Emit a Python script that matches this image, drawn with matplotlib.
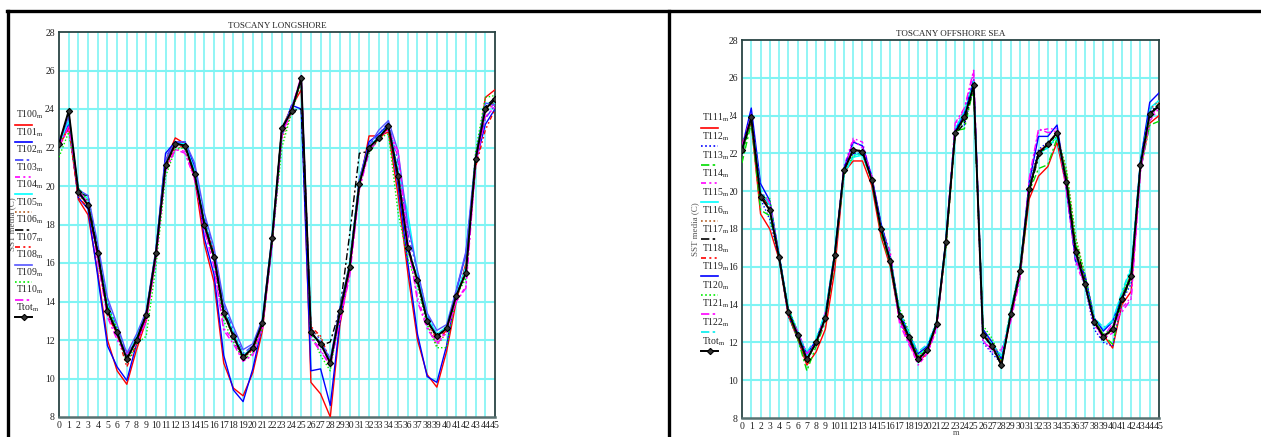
import matplotlib.pyplot as plt
from matplotlib.lines import Line2D

plt.rcParams['font.family'] = ['Liberation Serif', 'DejaVu Serif']
plt.rcParams['mathtext.fontset'] = 'custom'
plt.rcParams['mathtext.rm'] = 'Liberation Serif'

W, H = 1261, 437

months = list(range(46))

# --- TOSCANY LONGSHORE ---
ttot_left = [22.2, 23.9, 19.7, 19.0, 16.5, 13.5, 12.4, 11.0, 12.0, 13.3, 16.5, 21.1, 22.2, 22.1, 20.6, 18.0,
             16.3, 13.4, 12.2, 11.1, 11.6, 12.9, 17.3, 23.0, 23.9, 25.6, 12.4, 11.8, 10.8, 13.5, 15.8, 20.1,
             22.0, 22.5, 23.1, 20.5, 16.8, 15.1, 13.0, 12.2, 12.6, 14.3, 15.5, 21.4, 24.0, 24.5]
t100 = [22.0, 23.2, 19.3, 18.5, 15.5, 12.0, 10.4, 9.7, 11.5, 13.0, 16.3, 21.3, 22.5, 22.2, 20.4, 17.0,
        15.0, 10.8, 9.5, 9.1, 10.3, 12.5, 17.2, 23.0, 24.1, 25.0, 9.8, 9.2, 8.0, 12.8, 15.6, 20.0,
        22.6, 22.6, 22.8, 19.5, 15.5, 12.0, 10.2, 9.55, 11.4, 14.0, 16.0, 21.0, 24.6, 25.0]
t101 = [22.3, 23.2, 19.4, 18.8, 15.3, 11.7, 10.6, 9.9, 11.8, 13.2, 16.6, 21.7, 22.3, 22.3, 21.0, 17.3,
        15.4, 11.2, 9.4, 8.8, 10.5, 12.8, 17.0, 22.7, 24.2, 24.0, 10.4, 10.5, 8.6, 13.0, 15.8, 20.3,
        22.3, 22.7, 23.2, 20.0, 16.0, 12.3, 10.1, 9.8, 11.7, 14.5, 16.5, 21.2, 23.2, 24.0]
t102 = [22.3, 23.5, 19.5, 19.3, 16.8, 14.0, 12.6, 11.2, 12.1, 13.4, 16.6, 21.5, 22.3, 22.2, 20.9, 18.4,
        16.6, 13.8, 12.5, 11.3, 11.7, 13.0, 17.3, 22.6, 24.0, 25.4, 12.6, 12.0, 11.0, 13.4, 15.9, 20.2,
        22.1, 22.7, 23.3, 21.2, 17.5, 15.6, 13.3, 12.3, 12.6, 14.6, 16.4, 21.3, 23.5, 24.2]
t103 = [22.0, 23.0, 19.6, 19.2, 16.3, 13.4, 12.2, 11.4, 11.9, 13.0, 16.2, 20.8, 21.9, 21.8, 20.3, 17.8,
        16.0, 12.6, 12.0, 10.9, 11.3, 12.7, 17.1, 22.8, 23.8, 25.8, 12.2, 11.5, 10.6, 13.2, 15.5, 19.9,
        21.8, 22.4, 23.0, 21.5, 17.0, 14.2, 12.7, 11.9, 12.5, 14.0, 14.8, 21.2, 23.8, 24.3]
t104 = [22.1, 23.4, 19.9, 19.3, 16.7, 13.8, 12.5, 11.0, 12.2, 13.4, 16.6, 21.2, 22.2, 22.2, 20.8, 18.2,
        16.5, 13.6, 12.4, 11.2, 11.6, 13.1, 17.4, 23.0, 24.0, 25.6, 12.3, 11.9, 10.9, 13.6, 15.9, 20.3,
        22.0, 22.6, 23.1, 20.8, 18.6, 15.4, 13.2, 12.3, 12.7, 14.4, 15.8, 21.5, 24.3, 24.3]
t105 = [22.0, 23.1, 19.5, 19.1, 16.4, 13.6, 12.5, 10.9, 12.0, 13.3, 16.4, 20.9, 22.0, 22.0, 20.5, 18.1,
        16.4, 13.5, 12.2, 11.0, 11.5, 12.8, 17.2, 22.4, 23.8, 25.5, 12.6, 12.1, 10.6, 13.4, 15.7, 20.0,
        21.9, 22.4, 23.0, 20.3, 16.9, 15.0, 12.9, 11.7, 12.4, 14.2, 15.4, 21.3, 23.9, 24.4]
t106 = [22.2, 23.8, 19.6, 19.5, 16.6, 13.6, 12.3, 11.1, 12.0, 13.4, 16.5, 21.0, 22.2, 22.1, 20.6, 18.1,
        16.4, 13.5, 12.3, 11.1, 11.6, 12.9, 17.3, 23.0, 23.9, 24.0, 12.5, 11.7, 11.9, 13.6, 17.5, 21.7,
        21.8, 22.5, 23.1, 20.6, 16.9, 15.1, 13.0, 12.1, 12.6, 14.3, 15.5, 21.4, 24.1, 24.6]
t107 = [22.1, 23.0, 19.4, 18.9, 16.2, 13.3, 12.3, 10.6, 11.8, 13.2, 16.4, 21.0, 22.1, 22.0, 20.4, 17.9,
        16.6, 13.3, 12.2, 11.1, 11.5, 12.8, 17.2, 22.9, 23.9, 25.5, 12.7, 12.2, 10.9, 13.4, 15.9, 20.1,
        22.0, 22.4, 23.0, 20.4, 16.7, 15.0, 13.0, 12.0, 12.5, 14.3, 15.6, 21.0, 22.9, 24.0]
t108 = [22.3, 23.6, 19.8, 19.5, 17.0, 14.2, 12.8, 11.3, 12.3, 13.5, 16.7, 21.3, 22.3, 22.3, 21.2, 18.6,
        16.8, 14.0, 12.7, 11.5, 11.8, 13.1, 17.4, 22.9, 24.1, 25.5, 12.3, 11.9, 11.0, 13.7, 16.0, 20.4,
        22.1, 22.9, 23.4, 21.8, 18.0, 15.6, 13.4, 12.5, 12.8, 14.6, 16.6, 21.6, 24.3, 24.2]
t109 = [21.5, 22.8, 19.9, 19.2, 16.4, 13.8, 12.6, 10.8, 11.8, 12.2, 15.8, 20.5, 21.9, 22.0, 20.5, 18.0,
        16.2, 13.0, 11.9, 11.0, 11.3, 12.6, 17.1, 22.0, 23.8, 25.4, 12.4, 11.2, 10.4, 13.5, 16.0, 20.3,
        21.7, 22.5, 22.7, 18.6, 16.2, 14.8, 12.8, 11.6, 11.6, 14.3, 15.2, 21.8, 24.6, 24.7]
t110 = [22.1, 23.1, 19.8, 19.1, 16.1, 13.2, 12.0, 11.2, 11.8, 13.0, 16.2, 20.8, 21.9, 21.7, 20.4, 17.7,
        15.8, 12.5, 11.8, 10.9, 11.2, 12.6, 17.0, 22.6, 24.0, 25.7, 12.1, 11.4, 10.7, 13.0, 15.3, 19.8,
        21.8, 22.6, 22.9, 21.8, 17.2, 14.0, 12.6, 11.8, 12.4, 14.0, 14.7, 21.1, 23.6, 24.1]

# --- TOSCANY OFFSHORE SEA ---
ttot_right = [22.2, 23.9, 19.7, 19.0, 16.5, 13.6, 12.4, 11.1, 12.0, 13.3, 16.6, 21.1, 22.2, 22.1, 20.6, 18.0,
              16.3, 13.4, 12.3, 11.1, 11.6, 13.0, 17.3, 23.1, 23.9, 25.6, 12.4, 11.8, 10.8, 13.5, 15.8, 20.1,
              22.0, 22.5, 23.1, 20.5, 16.8, 15.1, 13.1, 12.3, 12.7, 14.3, 15.5, 21.4, 24.1, 24.5]
t111 = [22.5, 23.6, 18.8, 18.0, 16.4, 13.4, 12.2, 10.8, 11.5, 12.7, 15.8, 21.0, 21.6, 21.6, 20.3, 17.6,
        16.0, 13.2, 12.1, 11.0, 11.4, 12.9, 17.1, 23.1, 24.1, 25.5, 12.6, 11.8, 10.9, 13.3, 15.6, 19.6,
        20.8, 21.3, 22.6, 20.2, 16.6, 15.3, 13.2, 12.4, 11.7, 14.0, 14.7, 21.2, 23.6, 24.0]
t112 = [22.1, 23.8, 19.6, 18.5, 16.4, 13.4, 12.2, 11.0, 12.0, 13.3, 16.6, 21.2, 22.0, 22.0, 20.6, 18.0,
        16.1, 13.2, 12.1, 11.1, 11.5, 12.9, 17.2, 23.2, 23.5, 25.5, 12.0, 11.4, 10.9, 13.4, 15.6, 20.3,
        22.2, 22.6, 23.0, 20.2, 16.6, 15.0, 12.7, 12.0, 11.8, 14.2, 15.1, 21.5, 24.2, 24.6]
t113 = [21.5, 23.6, 19.0, 18.7, 16.5, 13.5, 12.2, 10.5, 11.8, 13.1, 16.3, 21.0, 21.8, 22.0, 20.6, 17.8,
        16.1, 13.4, 12.3, 11.3, 11.6, 13.0, 17.1, 23.2, 23.3, 25.5, 12.7, 12.0, 11.0, 13.4, 15.4, 20.0,
        21.2, 21.4, 22.8, 21.0, 17.2, 15.5, 13.2, 12.4, 11.9, 14.3, 15.3, 21.1, 23.5, 23.7]
t114 = [22.3, 24.1, 19.8, 19.3, 16.6, 13.6, 12.5, 11.2, 11.9, 13.2, 16.4, 21.3, 22.8, 22.6, 20.7, 18.2,
        16.8, 13.2, 12.0, 10.8, 11.4, 12.8, 17.3, 23.5, 24.3, 26.3, 12.1, 11.5, 11.4, 13.3, 15.5, 20.5,
        23.2, 23.3, 23.3, 20.0, 16.2, 15.0, 13.0, 12.2, 12.5, 13.8, 14.4, 21.0, 23.7, 24.4]
t115 = [22.0, 23.9, 19.9, 19.4, 16.7, 13.8, 12.6, 11.3, 12.1, 13.5, 16.7, 21.0, 21.8, 21.9, 20.6, 18.2,
        16.4, 13.5, 12.4, 11.3, 11.7, 13.1, 17.4, 23.3, 24.2, 25.7, 12.4, 11.8, 11.1, 13.6, 15.8, 20.2,
        22.0, 22.3, 22.9, 20.7, 16.7, 15.0, 13.2, 12.7, 13.2, 14.6, 15.9, 21.6, 24.4, 24.8]
t116 = [22.1, 23.7, 19.6, 19.1, 16.5, 13.7, 12.4, 11.0, 12.0, 13.3, 16.5, 21.1, 22.1, 22.2, 20.7, 18.3,
        16.6, 13.5, 12.3, 11.2, 11.6, 13.0, 17.2, 23.0, 23.9, 25.6, 12.6, 12.0, 10.8, 13.6, 15.9, 20.1,
        21.9, 22.6, 23.0, 21.2, 17.6, 15.6, 13.3, 12.3, 12.6, 14.5, 15.6, 21.4, 24.0, 24.7]
t117 = [22.0, 23.8, 19.8, 19.2, 16.6, 13.7, 12.3, 11.1, 12.0, 13.4, 16.6, 21.1, 22.2, 22.1, 20.7, 18.1,
        16.3, 13.5, 12.3, 11.1, 11.6, 13.0, 17.3, 23.0, 23.6, 25.5, 12.5, 11.7, 10.8, 13.5, 15.8, 20.0,
        21.8, 22.5, 23.0, 20.7, 17.1, 15.4, 13.1, 12.3, 12.8, 14.3, 15.5, 21.4, 24.1, 24.6]
t118 = [22.4, 23.8, 19.9, 19.0, 16.5, 13.5, 12.3, 11.1, 12.0, 13.2, 16.5, 21.1, 22.2, 22.1, 20.6, 18.0,
        16.2, 13.4, 12.4, 11.2, 11.6, 12.9, 17.2, 23.1, 24.0, 25.7, 12.4, 11.8, 10.9, 13.4, 15.8, 20.2,
        22.1, 22.5, 23.1, 20.6, 16.9, 15.2, 13.1, 12.2, 12.7, 14.3, 15.6, 21.4, 24.3, 24.8]
t119 = [22.3, 24.4, 20.4, 19.5, 16.6, 13.7, 12.5, 11.4, 12.1, 13.5, 16.7, 21.2, 22.6, 22.4, 20.8, 18.3,
        16.5, 13.6, 12.5, 11.4, 11.8, 13.0, 17.4, 23.2, 24.1, 25.9, 12.7, 12.0, 11.1, 13.5, 15.9, 20.5,
        22.9, 22.9, 23.5, 20.2, 16.3, 15.6, 13.3, 12.6, 13.1, 14.4, 15.5, 21.6, 24.7, 25.2]
t120 = [22.0, 23.7, 19.7, 19.6, 16.5, 13.8, 12.6, 11.0, 12.0, 13.4, 16.5, 20.8, 21.9, 22.0, 20.5, 18.1,
        16.3, 13.8, 12.6, 11.3, 11.7, 13.0, 17.0, 23.0, 23.8, 25.3, 12.9, 12.2, 11.0, 13.7, 15.9, 20.2,
        21.9, 22.4, 22.9, 21.1, 17.5, 15.6, 13.3, 12.4, 12.8, 14.5, 15.7, 21.2, 23.8, 24.7]
t121 = [22.4, 24.0, 20.0, 19.4, 16.6, 13.5, 12.6, 11.4, 12.0, 13.6, 16.4, 21.0, 22.7, 22.3, 20.8, 18.0,
        16.6, 13.0, 11.9, 11.0, 11.4, 12.7, 17.3, 23.6, 24.4, 26.4, 12.1, 11.6, 11.6, 13.1, 15.4, 20.7,
        23.3, 23.1, 23.2, 20.1, 16.4, 15.1, 12.9, 12.3, 13.0, 13.6, 14.3, 21.1, 23.9, 24.5]
t122 = [22.2, 23.9, 20.1, 19.2, 16.5, 13.7, 12.4, 11.5, 12.2, 13.6, 16.8, 20.8, 21.9, 22.0, 20.6, 18.1,
        16.5, 13.6, 12.5, 11.5, 11.9, 13.1, 17.3, 23.3, 24.2, 25.8, 12.5, 11.9, 11.3, 13.7, 16.0, 20.2,
        22.0, 22.3, 22.8, 20.5, 16.6, 15.2, 13.3, 12.8, 13.1, 14.7, 16.0, 21.6, 24.3, 24.8]

# line styles of the Mathcad traces
SOLID = '-'
DOT = (0, (1, 1.5))
DASHDOT = (0, (5, 2, 1.5, 2))
DASHDOTDOT = (0, (3, 2, 1.2, 2, 1.2, 2))

left_series = [
    ('T100', t100, '#ff0000', SOLID),
    ('T101', t101, '#0000ff', SOLID),
    ('T102', t102, '#3c3cff', DASHDOT),
    ('T103', t103, '#ff00ff', DASHDOTDOT),
    ('T104', t104, '#00ffff', SOLID),
    ('T105', t105, '#b05a1e', DOT),
    ('T106', t106, '#000000', DASHDOT),
    ('T107', t107, '#ff0000', DASHDOTDOT),
    ('T108', t108, '#5555ff', SOLID),
    ('T109', t109, '#00ee00', DOT),
    ('T110', t110, '#ff00ff', DASHDOT),
]
right_series = [
    ('T111', t111, '#ff0000', SOLID),
    ('T112', t112, '#0000ff', DOT),
    ('T113', t113, '#00dd00', DASHDOT),
    ('T114', t114, '#ff00ff', DASHDOTDOT),
    ('T115', t115, '#00ffff', SOLID),
    ('T116', t116, '#b05a1e', DOT),
    ('T117', t117, '#000000', DASHDOT),
    ('T118', t118, '#ff0000', DASHDOTDOT),
    ('T119', t119, '#0000ff', SOLID),
    ('T120', t120, '#00ee00', DOT),
    ('T121', t121, '#ff00ff', DASHDOT),
    ('T122', t122, '#00eeee', DASHDOT),
]


def fx(x):
    return x / W


def fy(y):
    return 1 - y / H


fig = plt.figure(figsize=(W / 100, H / 100), dpi=100)

GRID = '#7ff4f4'
SPINE = '#2a4444'


def panel(rect, title, series, ttot, leg_x, leg_y0, leg_dy, ylab_x):
    ax = fig.add_axes(rect)
    for name, vals, col, ls in series:
        ax.plot(months, vals, color=col, ls=ls, lw=1.0, zorder=3)
    ax.plot(months, ttot, color='black', lw=1.4, marker='D', ms=3.2,
            mfc='#333333', mec='black', mew=0.8, zorder=5)
    ax.set_xlim(0, 45)
    ax.set_ylim(8, 28)
    ax.set_xticks(months)
    ax.set_yticks(range(8, 29, 2))
    ax.tick_params(length=0, labelsize=7, colors='#222222', pad=3)
    for x in months[1:-1]:
        ax.axvline(x, color=GRID, lw=1.2, zorder=1)
    for y in range(10, 28, 2):
        ax.axhline(y, color=GRID, lw=1.5, zorder=1)
    for s in ax.spines.values():
        s.set_color(SPINE)
        s.set_linewidth(1.3)
    ax.spines['bottom'].set_color('#587070')
    ax.spines['bottom'].set_linewidth(1.8)
    ax.set_title(title, fontsize=6.5, pad=3, color='#222222')

    fig.text(fx(ylab_x), (rect[1] + rect[3] / 2), 'SST media (C)', rotation=90,
             fontsize=6.5, color='#555555', ha='center', va='center', zorder=1)

    # hand-drawn legend, Mathcad style
    entries = [(n, c, l) for n, v, c, l in series] + [('Ttot', 'black', 'marker')]
    for i, (name, col, ls) in enumerate(entries):
        ty = leg_y0 + i * leg_dy
        fig.text(fx(leg_x + 1), fy(ty), name + r'$_{\mathrm{m}}$', fontsize=7,
                 color='#222222', ha='left', va='center', zorder=4,
                 bbox=dict(facecolor='white', edgecolor='none', pad=0.3))
        ly = fy(ty + 9.5)
        if ls == 'marker':
            fig.add_artist(Line2D([fx(leg_x), fx(leg_x + 17)], [ly, ly], color='black',
                                  lw=1.4, zorder=4))
            fig.add_artist(Line2D([fx(leg_x + 8.5)], [ly], marker='D', ms=3.2, mfc='#333333',
                                  mec='black', mew=0.8, zorder=4))
        else:
            fig.add_artist(Line2D([fx(leg_x), fx(leg_x + 17)], [ly, ly], color=col,
                                  ls=ls, lw=1.2, zorder=4))
    return ax


panel([fx(59), fy(417), fx(495 - 59), (417 - 32) / H], 'TOSCANY LONGSHORE',
      left_series, ttot_left, 15, 115, 17.5, 12)
ax2 = panel([fx(742), fy(418), fx(1159 - 742), (418 - 40) / H], 'TOSCANY OFFSHORE SEA',
            right_series, ttot_right, 701, 118, 18.6, 695)
fig.text(fx(956), fy(437), 'm', fontsize=6, color='#444444', ha='center', va='bottom')

# page frame lines
fig.add_artist(Line2D([fx(7), 1], [fy(11), fy(11)], color='black', lw=2.4))
fig.add_artist(Line2D([fx(8), fx(8)], [fy(11), 0], color='black', lw=2.4))
fig.add_artist(Line2D([fx(669), fx(669)], [fy(11), 0], color='black', lw=2.4))

fig.savefig('out.png', dpi=100)
